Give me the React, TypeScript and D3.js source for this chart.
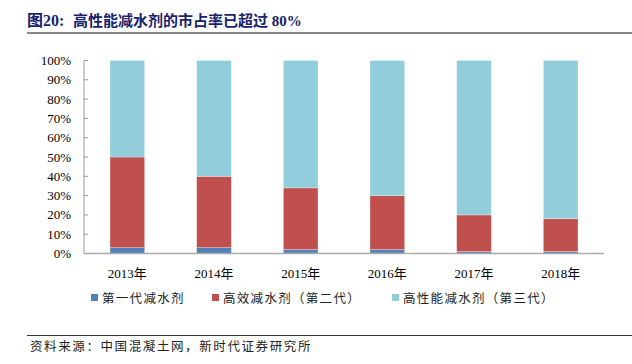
import React from "react";
import * as d3 from "d3";

const years = ["2013年", "2014年", "2015年", "2016年", "2017年", "2018年"];
const gen1 = [3, 3, 2, 2, 1, 1];
const gen2 = [47, 37, 32, 28, 19, 17];
const gen3 = [50, 60, 66, 70, 80, 82];
const seriesNames = ["第一代减水剂", "高效减水剂（第二代）", "高性能减水剂（第三代）"];
const colors = ["#4F81BD", "#C0504D", "#92CDDC"];
const yTicks = [0, 10, 20, 30, 40, 50, 60, 70, 80, 90, 100];

const W = 632, H = 364;
const serif = "'Liberation Serif', 'Noto Sans CJK SC', serif";
const cjk = "'Noto Sans CJK SC', 'Liberation Serif', serif";

export default function App() {
  const x = d3.scaleBand<string>().domain(years).range([84, 604]).paddingInner(0.6).paddingOuter(0.3);
  const y = d3.scaleLinear().domain([0, 100]).range([253.5, 60.5]);

  const rows = years.map((yr, i) => ({ yr, a: gen1[i], b: gen2[i], c: gen3[i] }));
  const stack = d3.stack<any>().keys(["a", "b", "c"])(rows);

  const legendX = [91, 212, 392];

  return (
    <svg width={W} height={H} style={{ position: "absolute", left: 0, top: 0, background: "#fff" }}>
      <text x={27} y={26} fontFamily={serif} fontWeight="bold" fontSize={16} fill="#17236b">图20:</text>
      <text x={73} y={26} fontFamily={serif} fontWeight="bold" fontSize={15} fill="#17236b">高性能减水剂的市占率已超过 80%</text>
      <line x1={27} x2={632} y1={33} y2={33} stroke="#888" strokeWidth={2} />

      {stack.map((s, si) =>
        s.map((d, i) => (
          <rect
            key={si + "-" + i}
            x={x(years[i])!}
            width={x.bandwidth()}
            y={y(d[1])}
            height={y(d[0]) - y(d[1])}
            fill={colors[si]}
            stroke="#ffffff"
            strokeOpacity={0.5}
            strokeWidth={0.6}
          />
        ))
      )}

      <line x1={84} x2={84} y1={60.5} y2={253.5} stroke="#999" strokeWidth={1} />
      {yTicks.map((t) => (
        <g key={t}>
          <line x1={84} x2={88} y1={y(t)} y2={y(t)} stroke="#999" strokeWidth={1} />
          <text x={71} y={y(t) + 4.5} textAnchor="end" fontFamily={serif} fontSize={13} fill="#000">{t}%</text>
        </g>
      ))}
      <line x1={84} x2={604} y1={253.5} y2={253.5} stroke="#aaa" strokeWidth={1.5} />

      {years.map((yr) => (
        <text key={yr} x={x(yr)! + x.bandwidth() / 2} y={278} textAnchor="middle" fontFamily={serif} fontSize={13} fill="#000">{yr}</text>
      ))}

      {seriesNames.map((n, i) => (
        <g key={n}>
          <rect x={legendX[i]} y={294} width={7} height={7} fill={colors[i]} />
          <text x={legendX[i] + 11} y={302.5} fontFamily={cjk} fontSize={12.5} letterSpacing={1.3} fill="#222">{n}</text>
        </g>
      ))}

      <line x1={27} x2={632} y1={335.5} y2={335.5} stroke="#333" strokeWidth={1} />
      <text x={30} y={351} fontFamily={cjk} fontSize={12.5} letterSpacing={1.6} fill="#222">资料来源：中国混凝土网，新时代证券研究所</text>
    </svg>
  );
}
